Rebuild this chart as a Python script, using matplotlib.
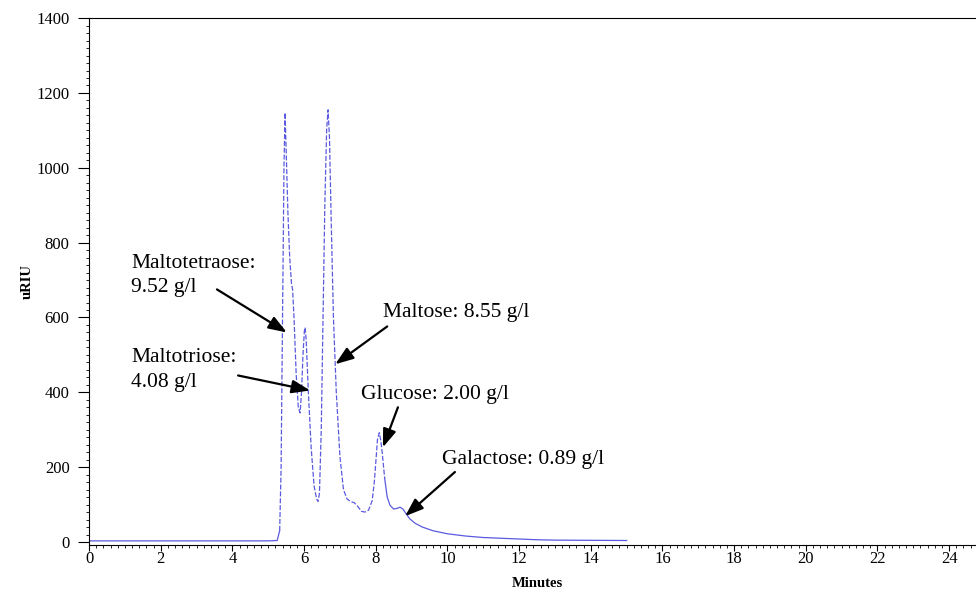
import numpy as np
import matplotlib.pyplot as plt
from matplotlib.ticker import MultipleLocator

# chromatogram (minutes, uRIU)
minutes = [0.0, 5.0, 5.25, 5.32, 5.36, 5.40, 5.44, 5.47, 5.50, 5.55, 5.60, 5.65, 5.68,
           5.72, 5.78, 5.84, 5.89, 5.93, 5.97, 6.01, 6.03, 6.06, 6.12, 6.20, 6.28, 6.35,
           6.39, 6.43, 6.48, 6.53, 6.58, 6.63, 6.67, 6.71, 6.76, 6.82, 6.90, 7.00, 7.10,
           7.20, 7.30, 7.40, 7.50, 7.60, 7.70, 7.80, 7.90, 7.96, 8.00, 8.05, 8.10, 8.14,
           8.18, 8.25, 8.32, 8.40, 8.50, 8.60, 8.68, 8.76, 8.85, 8.95, 9.10, 9.30, 9.60,
           10.0, 10.5, 11.0, 12.0, 12.5, 13.0, 15.0]
uriu = [3, 3, 4, 30, 200, 600, 1000, 1147, 1050, 880, 760, 690, 675,
        600, 450, 360, 345, 400, 500, 565, 573, 540, 400, 250, 150, 115,
        108, 130, 300, 600, 900, 1100, 1155, 1080, 850, 600, 400, 230, 140,
        115, 108, 105, 95, 82, 80, 85, 110, 160, 210, 275, 292, 272,
        240, 170, 120, 98, 88, 90, 93, 88, 75, 62, 50, 40, 30,
        22, 16, 12, 8, 6, 5, 4]

# annotations: text, text position, arrow tail, arrow head
labels = ["Maltotetraose:\n9.52 g/l", "Maltotriose:\n4.08 g/l", "Maltose: 8.55 g/l",
          "Glucose: 2.00 g/l", "Galactose: 0.89 g/l"]
text_xy = [(1.17, 712), (1.17, 459), (8.2, 613), (7.6, 395), (9.85, 221)]
tail_xy = [(3.57, 675), (4.16, 445), (8.32, 576), (8.62, 360), (10.21, 187)]
head_xy = [(5.52, 560), (6.17, 405), (6.87, 475), (8.2, 253), (8.82, 69)]

plt.rcParams['font.family'] = ['Liberation Serif', 'DejaVu Serif']

fig = plt.figure(figsize=(9.76, 5.92), dpi=100)
ax = fig.add_axes([0.0912, 0.0794, 0.918, 0.890])

t = np.array(minutes)
v = np.array(uriu)
col = '#5a5ae0'
m1 = t <= 5.32
m2 = (t >= 5.32) & (t <= 8.25)
m3 = t >= 8.25
ax.plot(t[m1], v[m1], color=col, lw=0.9)
ax.plot(t[m2], v[m2], color=col, lw=0.9, linestyle=(0, (4, 1.5)))
ax.plot(t[m3], v[m3], color=col, lw=0.9)

for lab, txy, tl, hd in zip(labels, text_xy, tail_xy, head_xy):
    ax.text(txy[0], txy[1], lab, fontsize=15.5, va='center', ha='left', linespacing=1.4)
    ax.annotate('', xy=hd, xytext=tl,
                arrowprops=dict(arrowstyle='-|>,head_length=1.1,head_width=0.4',
                                mutation_scale=10, color='black', lw=1.6,
                                shrinkA=0, shrinkB=0))

ax.set_xlim(0, 25)
ax.set_ylim(-8, 1400)
ax.xaxis.set_major_locator(MultipleLocator(2))
ax.xaxis.set_minor_locator(MultipleLocator(0.2))
ax.yaxis.set_major_locator(MultipleLocator(200))
ax.yaxis.set_minor_locator(MultipleLocator(20))
ax.tick_params(axis='x', which='major', direction='out', length=4, width=0.8, labelsize=12, pad=0.5)
ax.tick_params(axis='x', which='minor', direction='out', length=2, width=0.6)
ax.tick_params(axis='y', which='major', direction='out', length=8, width=0.8, labelsize=12, pad=6)
ax.tick_params(axis='y', which='minor', direction='out', length=2, width=0.6)
ax.spines['right'].set_visible(False)
for s in ['left', 'bottom', 'top']:
    ax.spines[s].set_linewidth(0.8)

ax.set_xlabel('Minutes', fontweight='bold', fontsize=10.5, labelpad=7)
ax.set_ylabel('uRIU', fontweight='bold', fontsize=10.5, labelpad=2)

fig.savefig('out.png', dpi=100)
